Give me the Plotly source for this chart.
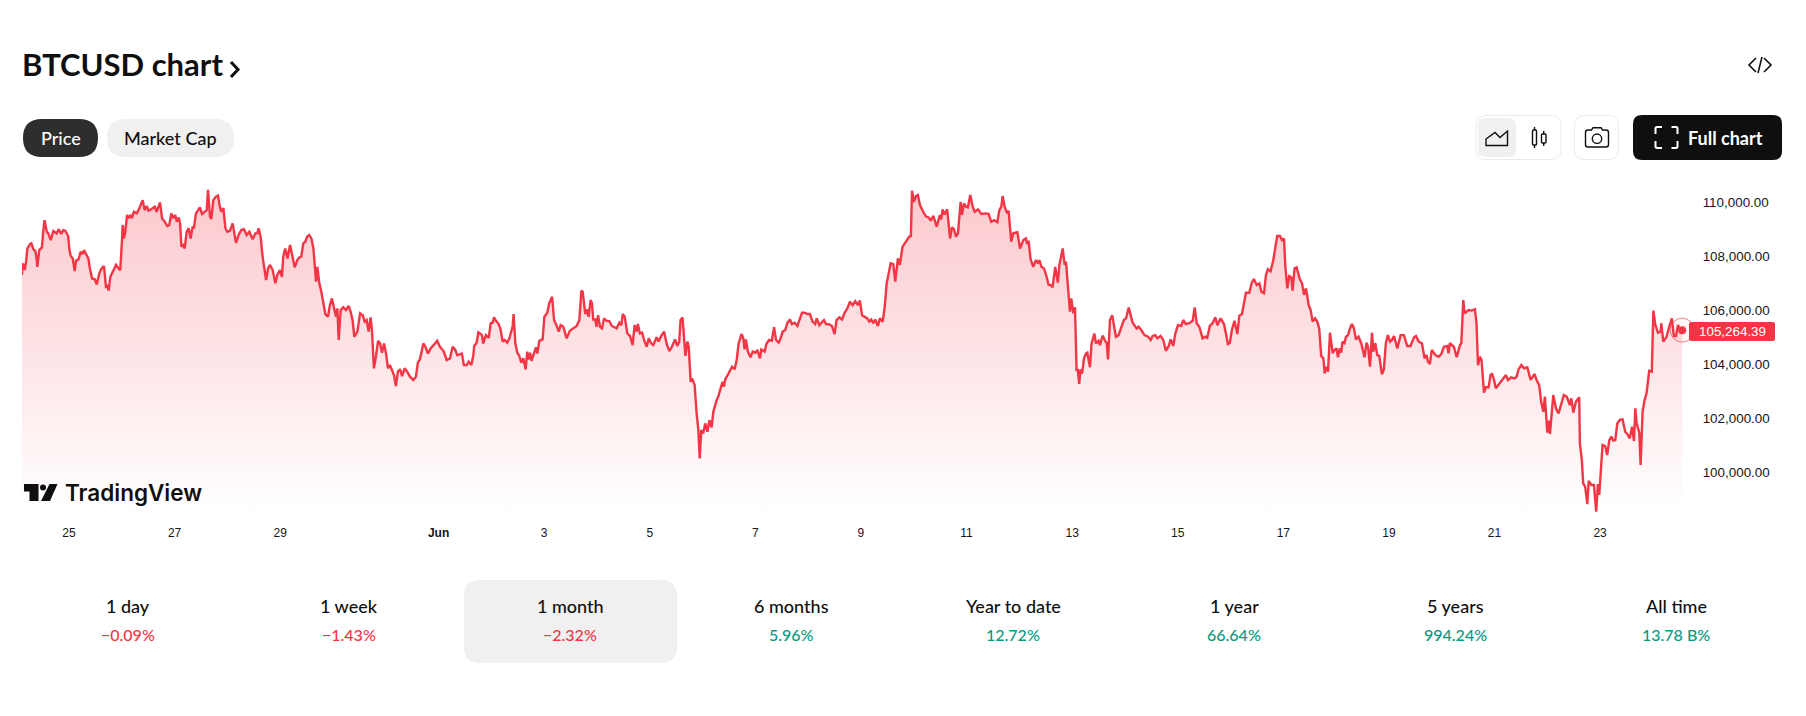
import pandas as pd
import plotly.graph_objects as go

# ---------- data: (hours after 24 May 2025 00:00, BTCUSD price) ----------
start_date = "2025-05-24"
readings_may = [
(2.6,107310),(2.9,107710),(3.6,107680),(3.9,107490),(4.5,107800),(5.1,108290),(6.3,108450),(6.9,108480),(7.8,108260),(8.7,108200),
(9.2,107960),(9.6,107610),(10.5,108230),(11.7,108330),(12.2,108850),(12.9,109340),(13.9,108910),(14.6,108850),(15.7,108600),(16.9,108940),
(18.4,108850),(19.3,109000),(20.5,108830),(21.4,108970),(22.3,108950),(23.6,108750),(24.2,108230),(24.8,108010),(25.7,107920),(26.6,107450),
(27.2,107840),(28.4,107890),(29.3,108170),(30.2,108080),(30.8,108230),(31.7,108110),(32.8,107920),(33.5,107550),(34.5,107180),(35.7,107150),
(36.6,106960),(37.8,107370),(38.8,107550),(39.9,107640),(40.8,106870),(41.4,106900),(42.0,106730),(42.8,107240),(44.2,107470),(45.4,107680),
(46.3,107580),(47.3,107490),(48.1,108600),(48.4,109160),(49.0,108660),(49.6,108910),(50.4,109530),(51.1,109410),(52.0,109530),(52.6,109410),
(53.5,109650),(54.8,109590),(56.0,109780),(57.5,110080),(58.4,109710),(59.3,109860),(60.2,109690),(61.4,109740),(63.0,109840),(63.8,109650),
(65.4,110000),(66.3,109410),(67.5,109280),(68.7,109120),(69.6,109160),(70.5,109590),(71.4,109410),(72.3,109530),(73.0,109280),(73.9,109440),
(74.5,109220),(75.1,108360),(76.0,108420),(76.6,108290),(77.5,108910),(78.4,109040),(79.3,108660),(80.2,109100),(80.8,109040),(81.7,109590),
(82.6,109690),(83.5,109810),(84.5,109570),(85.4,109620),(86.6,109710),(87.2,110460),(88.1,109470),(88.7,109380),(89.6,110080),(90.8,110210),
(91.7,110250),(92.6,109840),(93.2,109650),(94.2,109780),(95.1,109040),(96.0,108910),(97.2,108950),(98.4,109220),(99.3,108790),(99.9,108500),
(101.1,108790),(102.3,108970),(103.5,109000),(104.8,108790),(106.0,108910),(106.9,108730),(107.5,108630),(108.7,108850),(109.6,108850),(110.2,109040),
(111.1,108730),(112.0,107990),(113.0,107430),(113.6,107120),(114.5,107550),(115.4,107680),(116.6,107490),(117.8,107000),(118.7,107310),(119.9,107490),
(120.8,107240),(121.4,107990),(122.3,108290),(123.3,107920),(124.5,108420),(125.7,107990),(126.6,107590),(127.8,107860),(128.7,107960),(129.6,107990),
(130.5,108480),(131.4,108540),(132.3,108730),(133.2,108790),(134.2,108660),(135.1,108290),(135.7,107610),(136.3,107060),(136.9,107610),(137.8,107000),
(138.7,106690),(139.6,106320),(140.5,105860),(141.7,105760),(142.6,106190),(143.5,106440),(144.5,106010),(145.4,105760),(146.0,106070),(146.6,104900),
(147.5,106010),(148.7,106110),(149.9,106010),(151.1,106160),(152.0,105950),(152.9,105640),(153.7,105020),(155.1,105210),(156.3,105890),(157.5,105820),
(158.4,105580),(159.3,105640),(160.2,105210),(161.1,105740),(161.7,105270),(162.6,103850),(163.5,104280),(164.5,104870),(165.4,104770),(166.3,104430),
(167.2,104770),(168.1,104400),(169.0,103850),(169.9,103970),(170.8,103790),(171.7,103600),(172.6,103190),(173.5,103720),(174.5,103820),(175.4,103560),
(176.6,103850),(177.8,103720),(179.0,103540),(180.5,103420),(181.7,103540),(182.6,104060),(183.5,104180),(184.5,104590),(185.1,104770),(186.0,104650),
(187.2,104400),(188.4,104590),(190.2,104750),(191.4,104870),(192.6,104650),(194.2,104500),(195.7,104160),(197.2,104220),(198.4,104650),(199.6,104530),
(200.5,104340),
]
readings_early_june = [
(201.7,104380),(202.6,104400),(203.5,103970),(204.8,103970),(205.7,104100),(206.9,103970),(207.8,104340),(208.2,104680),(209.3,104800),(210.1,105180),
(210.8,105140),(211.7,105080),(212.3,104770),(213.5,105080),(214.8,104980),(215.7,105520),(216.6,105540),(217.2,105740),(218.1,105610),(219.3,105490),
(220.2,105290),(221.1,104840),(222.0,104900),(223.2,104800),(224.2,104960),(225.1,105270),(225.7,105420),(226.1,105860),(226.9,104770),(227.8,104430),
(228.7,104310),(229.6,104060),(230.5,104220),(231.6,103810),(232.3,104470),(232.9,104180),(233.6,104430),(234.2,104130),(235.4,104430),(236.3,104630),
(236.9,104400),(237.8,104870),(239.3,104920),(240.1,105760),(241.4,105910),(242.3,106260),(243.6,106500),(244.5,105640),(245.7,105420),(246.6,105210),
(247.5,105450),(248.7,105390),(250.2,104960),(251.7,105240),(253.2,105330),(254.8,105420),(256.0,105640),(256.9,106730),(257.5,106690),(258.7,105860),
(259.6,106030),(260.2,105760),(261.1,106380),(261.7,106260),(262.3,105660),(263.2,105660),(263.8,105390),(264.5,105820),(265.4,105390),(266.3,105330),
(267.2,105700),(268.4,105610),(269.6,105600),(270.8,105420),(272.9,105330),(274.2,105540),(275.1,105450),(275.7,105860),(276.6,105760),(277.8,105140),
(279.0,105050),(280.2,104710),(281.1,105450),(282.0,105210),(282.6,105490),(283.5,105140),(284.5,105170),(285.4,104900),(286.6,104650),(287.5,104960),
(288.7,104770),(289.6,104710),(291.1,105000),(292.0,104840),(293.2,105050),(294.5,105210),(295.7,104750),(296.9,104490),(298.1,104650),(299.5,104920),
(300.5,104680),(301.4,104840),(302.0,105640),(302.9,105730),(304.2,104310),(305.1,104840),(305.7,104650),(306.6,103350),(307.2,103480),(308.4,103230),
(309.3,102180),(310.1,101560),(310.7,100510),(311.4,101560),(312.3,101440),(313.2,101810),(314.2,101500),(315.1,101930),(316.1,101660),(316.9,102240),
(318.4,102670),(319.2,102820),(320.2,103110),(321.1,103350),(321.7,103170),(322.3,103440),(323.8,103660),(325.4,103910),(326.6,103820),(327.5,104160),
(328.4,104770),(329.7,105120),(330.5,104960),(331.1,104550),(331.7,104920),(332.6,104470),(333.8,104260),(334.8,104470),(336.0,104430),(336.9,104530),
(338.1,104220),(338.7,104550),(340.2,104470),(341.1,104770),(342.3,104900),(343.5,104870),(344.5,105370),(345.4,104900),(346.6,104800),(347.5,104960),
(348.4,105210),(349.6,105270),(350.5,105520),(351.7,105660),(352.6,105490),(353.8,105540),(355.1,105420),(356.0,105640),(357.2,105910),(358.4,105910),
(359.6,105860),(360.8,105860),(362.0,105580),(363.2,105490),(363.9,105700),(365.1,105450),(366.3,105540),(367.2,105640),(368.1,105490),(369.6,105480),
(370.8,105420),(372.0,105120),(372.9,105640),(374.2,105740),(375.4,105660),(376.6,105910),(377.8,106070),(379.0,106320),(380.2,106190),(381.4,106340),
(382.6,106190),(383.5,106360),(384.5,105820),(385.7,105760),(386.9,105700),(387.8,105580),(388.7,105660),(389.6,105520),(390.5,105660),(391.7,105420),
(392.6,105700),(393.9,105580),(394.8,106130),(395.7,107000),(396.6,107370),(397.5,107740),(398.7,107710),(399.6,107060),(400.8,107920),
]
readings_mid_june = [
(401.7,107680),(402.9,108360),(404.5,108540),(406.0,108730),(406.7,108750),(407.2,110430),(408.1,110020),(409.0,110230),(409.9,110270),(410.8,109900),
(412.3,109650),(413.6,109470),(414.8,109440),(415.7,109320),(416.9,109500),(418.4,109100),(419.9,109530),(420.5,109370),(421.1,109740),(422.0,109550),
(423.2,109740),(424.5,108660),(425.4,109070),(426.3,109000),(427.2,108730),(428.1,108850),(429.3,110020),(429.9,109530),(430.8,109960),(431.7,109840),
(432.6,109810),(433.7,110270),(434.8,109840),(435.7,109650),(437.2,109740),(438.7,109570),(440.5,109590),(442.0,109570),(443.2,109280),(444.5,109340),
(446.0,109260),(446.9,109710),(447.8,109840),(448.4,110230),(449.3,109840),(450.5,109590),(451.1,109690),(452.3,108540),(453.2,108850),(455.1,108890),
(456.3,108290),(457.8,108600),(459.0,108660),(459.6,108450),(460.2,108580),(461.1,107890),(462.3,107610),(463.6,107860),(464.5,107740),(465.1,107860),
(466.0,107610),(467.2,107550),(468.4,107240),(469.3,106940),(470.2,106940),(471.1,106850),(472.3,107610),(473.5,107020),(474.2,107680),(475.1,108050),
(475.7,108290),(476.6,107680),(477.2,107800),(478.1,106870),(479.0,105950),(479.6,106440),(480.5,105890),(481.3,106110),(482.0,103790),(482.6,103790),
(483.2,103270),(483.8,103810),(484.5,103660),(485.4,104220),(486.3,104400),(486.9,104430),(488.1,103890),(488.8,104750),(490.1,105140),(490.8,104770),
(492.0,104870),(492.6,104710),(493.9,105060),(495.1,104840),(495.7,104800),(496.3,104180),(497.2,105640),(498.2,105820),(499.0,105390),(499.9,105020),
(501.1,105080),(502.3,105390),(503.5,105640),(504.5,105700),(505.7,106100),(506.6,105820),(507.5,105540),(509.3,105330),(510.2,105390),(511.4,105270),
(512.9,105080),(514.5,105020),(515.7,104900),(516.6,105050),(517.8,105080),(518.7,104960),(520.2,105050),(521.4,104900),(522.6,104500),(523.9,104680),
(524.8,104920),(526.0,104680),(526.9,105140),(528.1,105450),(529.6,105420),(530.5,105640),(531.7,105490),(533.2,105520),(534.8,105610),(535.7,106110),
(536.6,105520),(537.8,105390),(539.3,104960),(540.5,105020),(541.4,104980),(542.6,105420),(543.8,105520),(545.1,105740),(546.0,105450),(547.5,105700),
(549.0,105490),(549.9,105140),(550.8,104750),(551.7,104800),(552.6,105270),(553.8,105610),(555.1,105120),(556.0,105800),(557.2,105860),(558.1,106260),
(559.0,106650),(560.5,106650),(561.6,107000),(562.6,107160),(563.9,106940),(565.1,107000),(566.0,106690),(567.2,106630),(568.1,107310),(569.0,107520),
(570.2,107450),(571.4,107840),(572.3,108230),(573.2,108750),(574.5,108750),(575.4,108600),(576.3,108660),(576.9,107640),(577.8,106810),(578.7,107270),
(579.6,107220),(580.2,106730),(581.1,107550),(582.0,107590),(583.5,107150),
]
readings_late_june = [
(584.5,107000),(585.4,106570),(586.3,106810),(587.5,106200),(588.4,106010),(589.3,105580),(590.4,105700),(591.4,105580),(592.3,105330),(593.2,104310),
(594.2,104220),(594.8,103660),(595.4,103910),(596.3,103730),(597.2,105170),(598.4,104410),(599.3,104530),(600.2,104590),(600.8,104260),(601.7,104590),
(602.3,104430),(602.9,104840),(603.8,104780),(604.5,105020),(605.4,105080),(606.3,105330),(607.2,105490),(608.1,105330),(609.0,104920),(610.2,105020),
(611.4,104780),(612.9,104260),(613.8,104800),(614.5,104650),(615.4,103910),(616.3,105170),(616.9,104470),(617.8,104780),(618.7,104340),(619.6,104310),
(620.8,103630),(621.7,103810),(622.6,104780),(623.5,105080),(624.5,104840),(625.4,104900),(626.3,105050),(627.8,104590),(629.3,105080),(630.8,105080),
(632.3,104680),(633.8,104680),(635.4,105000),(636.3,105050),(637.5,104840),(639.0,104780),(640.2,104220),(641.1,104340),(641.7,104100),(642.6,104010),
(643.5,104530),(645.1,104340),(646.6,104280),(647.8,104380),(649.0,104650),(650.5,104680),(651.1,104410),(651.7,104780),(653.5,104650),(654.8,104260),
(656.3,104710),(656.9,104780),(657.8,106380),(658.4,105890),(659.3,105950),(660.2,106010),(661.7,105990),(663.1,106040),(663.8,105520),(664.5,103970),
(665.4,104280),(666.1,104160),(667.2,102950),(668.1,103150),(669.3,103150),(670.2,103600),(670.8,103660),(671.7,103440),(672.6,103110),(674.2,103290),
(676.0,103480),(677.2,103600),(678.1,103420),(679.6,103520),(681.1,103480),(682.0,103540),(682.9,103810),(684.2,103970),(685.4,103850),(686.9,103890),
(688.4,103420),(689.3,103540),(690.2,103640),(691.1,103420),(692.3,103230),(693.2,102610),(694.2,102240),(694.9,102800),(696.0,101470),(696.6,101910),
(697.2,101420),(698.7,102860),(699.9,102370),(701.1,102180),(702.3,102490),(703.5,102860),(704.8,102800),(706.3,102490),(706.9,102740),(707.8,102210),
(709.0,102610),(710.5,102780),(710.8,101070),(711.7,100450),(712.3,99590),(713.2,99470),(714.2,98820),(714.8,99680),(716.0,99530),(717.2,99530),
(718.2,98540),(719.0,99560),(719.6,99160),(720.5,100580),(721.1,101010),(722.3,100970),(723.2,100640),(724.2,101190),(725.1,101320),(726.0,101170),
(726.9,101190),(727.8,101810),(729.0,101940),(730.2,101960),(731.4,101500),(732.3,101420),(733.5,101260),(734.5,101690),(735.4,101160),(736.0,102370),
(736.6,101810),(737.8,101470),(738.4,100270),(739.3,102240),(740.2,102680),(741.1,102920),(742.3,103760),(743.5,103730),(744.2,105990),(745.1,105460),
(746.3,105170),(747.5,105210),(747.8,105520),(748.7,104840),(750.2,105020),(751.4,105390),(752.6,105700),(753.5,105050),(754.5,105050),(755.4,105460),
(756.3,105270),(757.3,105264.39),
]
price_ticks = [100000, 102000, 104000, 106000, 108000, 110000]
date_tick_days = [1, 3, 5, 8, 10, 12, 14, 16, 18, 20, 22, 24, 26, 28, 30]
date_tick_labels = ["25", "27", "29", "<b>Jun</b>", "3", "5", "7", "9", "11", "13", "15", "17", "19", "21", "23"]
period_names = ["1 day", "1 week", "1 month", "6 months", "Year to date", "1 year", "5 years", "All time"]
period_changes = ["\u22120.09%", "\u22121.43%", "\u22122.32%", "5.96%", "12.72%", "66.64%", "994.24%", "13.78\u202fB%"]
last_price_label = "105,264.39"

# ---------- styling ----------
W, H = 1806, 716
RED, GREEN, INK, SOFT = "#f23645", "#089981", "#0f0f0f", "#f0f0f0"
UI = "Lato"
AXIS = "Liberation Sans"

def fx(x): return x / W
def fy(y): return 1 - y / H

def to_path(points, close=False):
    parts = []
    for i, p in enumerate(points):
        if p[0] == "Q":
            parts.append(f"Q{fx(p[1]):.6f},{fy(p[2]):.6f} {fx(p[3]):.6f},{fy(p[4]):.6f}")
        else:
            parts.append(("M" if i == 0 else "L") + f"{fx(p[0]):.6f},{fy(p[1]):.6f}")
    return " ".join(parts) + (" Z" if close else "")

def rrect(x0, y0, x1, y1, r):
    return to_path([(x0 + r, y0), (x1 - r, y0), ("Q", x1, y0, x1, y0 + r), (x1, y1 - r), ("Q", x1, y1, x1 - r, y1),
                    (x0 + r, y1), ("Q", x0, y1, x0, y1 - r), (x0, y0 + r), ("Q", x0, y0, x0 + r, y0)], True)

shapes = []
def add_path(path, fill="rgba(0,0,0,0)", line=None, width=0):
    shapes.append(dict(type="path", xref="paper", yref="paper", path=path, fillcolor=fill,
                       line=dict(color=line or "rgba(0,0,0,0)", width=width)))

def add_circle(cx, cy, r, line, width=1.5, fill="rgba(0,0,0,0)"):
    shapes.append(dict(type="circle", xref="paper", yref="paper", x0=fx(cx - r), x1=fx(cx + r), y0=fy(cy + r), y1=fy(cy - r),
                       fillcolor=fill, line=dict(color=line, width=width)))

annotations = []
def label(x, y, text, size, color=INK, weight=400, family=UI, anchor="center"):
    annotations.append(dict(xref="paper", yref="paper", x=fx(x), y=fy(y), text=text, showarrow=False, xanchor=anchor,
                            yanchor="middle", font=dict(family=family, size=size, color=color, weight=weight)))

# header
label(20, 64, "BTCUSD chart", 31, weight=700, anchor="left")
add_path(to_path([(231, 62), (238, 69.5), (231, 77)]), line=INK, width=3)
add_path(to_path([(1756, 58), (1749, 65), (1756, 72)]), line=INK, width=1.6)
add_path(to_path([(1762, 57), (1758, 73)]), line=INK, width=1.6)
add_path(to_path([(1764, 58), (1771, 65), (1764, 72)]), line=INK, width=1.6)

# pills
add_path(rrect(23, 119, 98, 157, 19), fill="#2e2e2e")
label(60.5, 137.5, "Price", 18, "#ffffff", 500)
add_path(rrect(107, 119, 234, 157, 19), fill=SOFT)
label(170.5, 137.5, "Market Cap", 18, INK, 500)

# toolbar
add_path(rrect(1476, 115.5, 1561, 159.5, 10), fill="#ffffff", line="#ebebeb", width=1)
add_path(rrect(1478, 118, 1516, 157, 8), fill=SOFT)
add_path(to_path([(1486, 145.5), (1486, 139), (1495, 132.5), (1500, 137.5), (1507.5, 131), (1507.5, 145.5)], True), line=INK, width=1.4)
add_path(rrect(1532.5, 130, 1536.5, 145, 1), line=INK, width=1.4)
add_path(to_path([(1534.5, 127), (1534.5, 130)]), line=INK, width=1.4)
add_path(to_path([(1534.5, 145), (1534.5, 148)]), line=INK, width=1.4)
add_path(rrect(1541.5, 134, 1546, 143, 1), line=INK, width=1.4)
add_path(to_path([(1543.7, 131), (1543.7, 134)]), line=INK, width=1.4)
add_path(to_path([(1543.7, 143), (1543.7, 146)]), line=INK, width=1.4)
add_path(rrect(1574.5, 115.5, 1618.5, 159.5, 10), fill="#ffffff", line="#ebebeb", width=1)
add_path(to_path([(1588, 130), (1591.5, 130), (1593, 127.7), (1601, 127.7), (1602.5, 130), (1606, 130),
                  ("Q", 1608.5, 130, 1608.5, 132.5), (1608.5, 144.5), ("Q", 1608.5, 147, 1606, 147), (1588, 147),
                  ("Q", 1585.5, 147, 1585.5, 144.5), (1585.5, 132.5), ("Q", 1585.5, 130, 1588, 130)], True), line=INK, width=1.4)
add_circle(1597, 138.7, 4.7, INK, 1.4)
add_path(rrect(1633, 115, 1782, 160, 9), fill=INK)
for a, b, c in [((1655.5, 134), (1655.5, 127), (1662, 127)), ((1671.5, 127), (1677.5, 127), (1677.5, 134)),
                ((1677.5, 141), (1677.5, 148), (1671.5, 148)), ((1662, 148), (1655.5, 148), (1655.5, 141))]:
    mx1 = (a[0] * 0.25 + b[0] * 0.75, a[1] * 0.25 + b[1] * 0.75)
    mx2 = (c[0] * 0.25 + b[0] * 0.75, c[1] * 0.25 + b[1] * 0.75)
    add_path(to_path([a, mx1, ("Q", b[0], b[1], mx2[0], mx2[1]), c]), line="#ffffff", width=2)
label(1725.5, 137.5, "Full chart", 18, "#ffffff", 700)

# tradingview logo
add_path(to_path([(24, 484), (38.5, 484), (38.5, 501), (29.5, 501), (29.5, 491.5), (24, 491.5)], True), fill=INK)
add_circle(43, 487.5, 3, INK, 0, fill=INK)
add_path(to_path([(49.5, 484), (57.5, 484), (50, 501), (41, 501)], True), fill=INK)
label(63, 492, "TradingView", 22.5, INK, 600, "Inter", "left")

# period cards
add_path(rrect(464, 580, 677, 663, 16), fill=SOFT)
for i, (name, change) in enumerate(zip(period_names, period_changes)):
    cx = 128 + i * 221.2
    label(cx, 606, name, 18, INK, 500)
    label(cx, 634, change, 16, RED if change.startswith("\u2212") else GREEN, 500)

# last-price tag
add_path(rrect(1689, 322, 1775, 341, 2), fill=RED)
label(1732, 331.5, last_price_label, 13.4, "#ffffff", 400, AXIS)

# ---------- chart ----------
readings = readings_may + readings_early_june + readings_mid_june + readings_late_june
hours = [r[0] for r in readings]
prices = [r[1] for r in readings]
base = pd.Timestamp(start_date)
times = [base + pd.Timedelta(hours=h) for h in hours]

PLOT_L, PLOT_R, PLOT_T, PLOT_B = 22, 1689, 180, 512
RANGE_LO, RANGE_HI = 98529, 110826

fig = go.Figure()
fig.add_trace(go.Scatter(
    x=times, y=prices, mode="lines", line=dict(color=RED, width=2.4), fill="tozeroy",
    fillgradient=dict(type="vertical", start=RANGE_HI, stop=RANGE_LO,
                      colorscale=[[0, "rgba(242,54,69,0.28)"], [1, "rgba(242,54,69,0)"]]),
    hoverinfo="skip", showlegend=False))
fig.add_trace(go.Scatter(
    x=times[-1:], y=prices[-1:], mode="markers", cliponaxis=False,
    marker=dict(size=24, color="rgba(242,54,69,0.05)", line=dict(color="rgba(242,54,69,0.6)", width=1)),
    hoverinfo="skip", showlegend=False))
fig.add_trace(go.Scatter(
    x=times[-1:], y=prices[-1:], mode="markers", cliponaxis=False,
    marker=dict(size=8, color=RED), hoverinfo="skip", showlegend=False))

fig.update_layout(
    width=W, height=H, autosize=False, margin=dict(l=0, r=0, t=0, b=0),
    paper_bgcolor="#ffffff", plot_bgcolor="#ffffff", shapes=shapes, annotations=annotations,
    xaxis=dict(domain=[fx(PLOT_L), fx(PLOT_R)], type="date",
               range=[base + pd.Timedelta(hours=2.64), base + pd.Timedelta(hours=760.4)],
               tickvals=[base + pd.Timedelta(days=d) for d in date_tick_days], ticktext=date_tick_labels,
               showgrid=False, zeroline=False, showline=False, ticks="outside", ticklen=10, tickcolor="rgba(0,0,0,0)",
               tickfont=dict(family=AXIS, size=12, color="#131722")),
    yaxis=dict(domain=[fy(PLOT_B), fy(PLOT_T)], side="right", range=[RANGE_LO, RANGE_HI], tickvals=price_ticks,
               tickformat=",.2f", showgrid=False, zeroline=False, showline=False, ticks="outside", ticklen=10,
               tickcolor="rgba(0,0,0,0)", tickfont=dict(family=AXIS, size=13.4, color="#131722")),
)

fig.write_html("out.html", config={"displayModeBar": False},
               post_script="document.body.style.margin='0';document.documentElement.style.overflow='hidden';")
